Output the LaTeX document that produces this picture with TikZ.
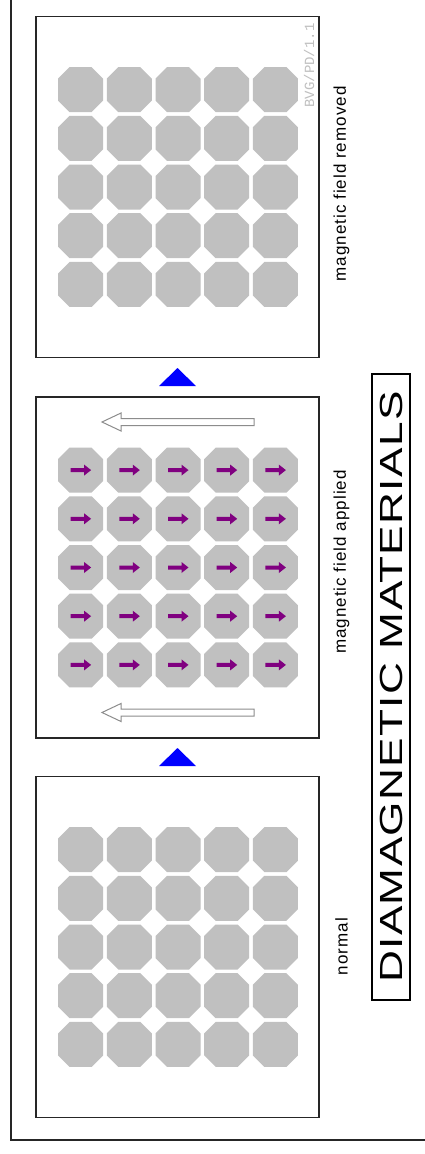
\documentclass[tikz,border=0pt]{standalone}
\usepackage{fontspec}
\usepackage{graphicx}
\setmainfont{Liberation Sans}
\newfontfamily\lblfont[LetterSpace=6]{Liberation Sans}
\newfontfamily\ttlfont[LetterSpace=3]{Liberation Sans}
\newfontfamily\codefont{Liberation Mono}
\definecolor{octgray}{HTML}{C0C0C0}
\definecolor{spinpurple}{HTML}{800080}
\definecolor{fieldgray}{HTML}{8C8C8C}
\definecolor{stepblue}{HTML}{0000FF}

\begin{document}
\begin{tikzpicture}[x=1pt,y=-1pt,
  frame/.style={draw=black!85,line width=1.4pt},
  panel/.style={draw=black!85,line width=1.6pt,fill=white,minimum width=283pt,minimum height=341pt,inner sep=0pt},
  octa/.style={fill=octgray},
  spin/.style={fill=spinpurple},
  fieldarrow/.style={draw=fieldgray,line width=1pt,fill=white},
  stepmark/.style={fill=stepblue},
  lbl/.style={rotate=90,inner sep=0pt,font=\lblfont\fontsize{17pt}{19pt}\selectfont},
  titlebox/.style={rotate=90,draw=black,line width=2pt,minimum width=626pt,minimum height=38pt,inner sep=0pt,
    font=\ttlfont\fontsize{32pt}{34pt}\selectfont},
  tag/.style={rotate=90,inner sep=0pt,text=octgray,font=\codefont\fontsize{14pt}{16pt}\selectfont}]

\useasboundingbox (0,0) rectangle (424,1154);
\fill[white] (0,0) rectangle (424,1154);

% outer frame (only left and bottom edges fall inside the page)
\draw[frame] (11,-5) -- (11,1140) -- (430,1140);

% the three state panels
\node[panel] (pRemoved) at (177.5,187) {};
\node[panel] (pApplied) at (177.5,567.5) {};
\node[panel] (pNormal)  at (177.5,947) {};

% octagonal atoms, a 5x5 grid in each panel
\foreach \cy in {187,567.5,947}{
  \foreach \i in {-2,...,2}{
    \foreach \j in {-2,...,2}{
      \fill[octa,shift={({178+\i*48.7},{\cy+\j*48.7})}]
        (-11,-22.5) -- (11,-22.5) -- (22.5,-11) -- (22.5,11)
        -- (11,22.5) -- (-11,22.5) -- (-22.5,11) -- (-22.5,-11) -- cycle;
    }
  }
}

% induced moments in the applied-field panel
\foreach \i in {-2,...,2}{
  \foreach \j in {-2,...,2}{
    \fill[spin,shift={({178+\i*48.7},{567.5+\j*48.7})}]
      (-10,-2) -- (3.5,-2) -- (3.5,-5.5) -- (10.5,0) -- (3.5,5.5) -- (3.5,2) -- (-10,2) -- cycle;
  }
}

% external field arrows
\foreach \cy in {422,712.5}{
  \draw[fieldarrow,shift={(0,\cy)}]
    (102,0) -- (121,-9) -- (121,-3.5) -- (254,-3.5) -- (254,3.5) -- (121,3.5) -- (121,9) -- cycle;
}

% step markers between the panels
\fill[stepmark] (177.5,368) -- (196,386) -- (159,386) -- cycle;
\fill[stepmark] (177.5,748) -- (196,766) -- (159,766) -- cycle;

% panel captions
\node[lbl] (labRemoved) at (341.5,184) {magnetic field removed};
\node[lbl] (labApplied) at (341.5,562) {magnetic field applied};
\node[lbl] (labNormal)  at (341.5,946.5) {normal};

% title
\node[titlebox] (title) at (391,687) {\scalebox{1.38}[1]{DIAMAGNETIC MATERIALS}};

% reference tag
\node[tag] (tag) at (309,65.5) {BVG/PD/1.1};
\end{tikzpicture}
\end{document}
